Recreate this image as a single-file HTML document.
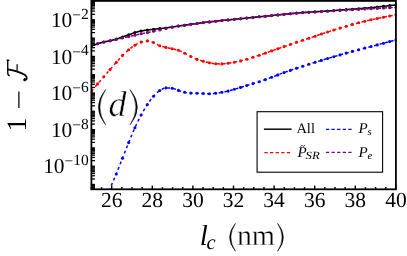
<!DOCTYPE html>
<html><head><meta charset="utf-8"><title>chart</title>
<style>
html,body{margin:0;padding:0;background:#fff;overflow:hidden}
body{width:407px;height:256px;position:relative;font-family:"Liberation Serif",serif}
#w{position:absolute;left:0;top:0;width:407px;height:256px;will-change:transform;opacity:0.999}
svg{display:block}
svg text{text-rendering:geometricPrecision}
</style>
</head><body>
<div id="w">
<svg width="407" height="256" viewBox="0 0 407 256">
<defs><clipPath id="c"><rect x="91.4" y="0.9" width="305.1" height="188.4"/></clipPath></defs>
<g clip-path="url(#c)" fill="none" stroke-linecap="butt">
<path d="M91.40,46.00 L92.01,45.77 L92.62,45.54 L93.23,45.31 L93.84,45.09 L94.45,44.87 L95.06,44.65 L95.67,44.44 L96.28,44.24 L96.89,44.03 L97.50,43.84 L98.11,43.64 L98.72,43.45 L99.33,43.26 L99.94,43.07 L100.55,42.89 L101.16,42.71 L101.77,42.54 L102.38,42.37 L102.99,42.21 L103.60,42.05 L104.21,41.91 L104.82,41.77 L105.44,41.64 L106.05,41.52 L106.66,41.40 L107.27,41.28 L107.88,41.16 L108.49,41.03 L109.10,40.91 L109.71,40.78 L110.32,40.64 L110.93,40.49 L111.54,40.35 L112.15,40.20 L112.76,40.05 L113.37,39.89 L113.98,39.73 L114.59,39.57 L115.20,39.40 L115.81,39.23 L116.42,39.05 L117.03,38.87 L117.64,38.67 L118.25,38.47 L118.86,38.27 L119.47,38.05 L120.08,37.84 L120.69,37.63 L121.30,37.41 L121.91,37.20 L122.52,36.98 L123.13,36.77 L123.74,36.56 L124.35,36.34 L124.96,36.13 L125.57,35.91 L126.18,35.69 L126.79,35.47 L127.40,35.26 L128.01,35.04 L128.62,34.82 L129.23,34.60 L129.84,34.38 L130.45,34.15 L131.06,33.93 L131.67,33.70 L132.28,33.48 L132.89,33.26 L133.51,33.05 L134.12,32.84 L134.73,32.65 L135.34,32.47 L135.95,32.29 L136.56,32.12 L137.17,31.95 L137.78,31.78 L138.39,31.62 L139.00,31.47 L139.61,31.33 L140.22,31.19 L140.83,31.06 L141.44,30.94 L142.05,30.82 L142.66,30.71 L143.27,30.61 L143.88,30.50 L144.49,30.41 L145.10,30.31 L145.71,30.22 L146.32,30.14 L146.93,30.05 L147.54,29.97 L148.15,29.90 L148.76,29.82 L149.37,29.75 L149.98,29.68 L150.59,29.62 L151.20,29.55 L151.81,29.49 L152.42,29.42 L153.03,29.36 L153.64,29.29 L154.25,29.22 L154.86,29.15 L155.47,29.08 L156.08,29.01 L156.69,28.95 L157.30,28.88 L157.91,28.81 L158.52,28.74 L159.13,28.67 L159.74,28.60 L160.35,28.53 L160.97,28.47 L161.58,28.40 L162.19,28.33 L162.80,28.27 L163.41,28.20 L164.02,28.13 L164.63,28.06 L165.24,27.99 L165.85,27.92 L166.46,27.84 L167.07,27.75 L167.68,27.67 L168.29,27.58 L168.90,27.49 L169.51,27.40 L170.12,27.31 L170.73,27.22 L171.34,27.12 L171.95,27.03 L172.56,26.95 L173.17,26.86 L173.78,26.77 L174.39,26.68 L175.00,26.59 L175.61,26.50 L176.22,26.42 L176.83,26.33 L177.44,26.24 L178.05,26.15 L178.66,26.06 L179.27,25.97 L179.88,25.89 L180.49,25.80 L181.10,25.71 L181.71,25.62 L182.32,25.53 L182.93,25.44 L183.54,25.36 L184.15,25.27 L184.76,25.18 L185.37,25.09 L185.98,25.00 L186.59,24.91 L187.20,24.82 L187.81,24.73 L188.43,24.64 L189.04,24.55 L189.65,24.46 L190.26,24.38 L190.87,24.29 L191.48,24.21 L192.09,24.13 L192.70,24.06 L193.31,23.98 L193.92,23.90 L194.53,23.83 L195.14,23.75 L195.75,23.67 L196.36,23.59 L196.97,23.51 L197.58,23.43 L198.19,23.34 L198.80,23.25 L199.41,23.15 L200.02,23.06 L200.63,22.97 L201.24,22.88 L201.85,22.79 L202.46,22.71 L203.07,22.62 L203.68,22.55 L204.29,22.47 L204.90,22.40 L205.51,22.33 L206.12,22.27 L206.73,22.20 L207.34,22.13 L207.95,22.07 L208.56,22.00 L209.17,21.93 L209.78,21.86 L210.39,21.80 L211.00,21.73 L211.61,21.66 L212.22,21.59 L212.83,21.52 L213.44,21.45 L214.05,21.38 L214.66,21.32 L215.27,21.25 L215.88,21.18 L216.50,21.11 L217.11,21.04 L217.72,20.97 L218.33,20.90 L218.94,20.83 L219.55,20.76 L220.16,20.69 L220.77,20.62 L221.38,20.56 L221.99,20.49 L222.60,20.43 L223.21,20.37 L223.82,20.31 L224.43,20.25 L225.04,20.19 L225.65,20.13 L226.26,20.08 L226.87,20.02 L227.48,19.96 L228.09,19.90 L228.70,19.84 L229.31,19.78 L229.92,19.73 L230.53,19.67 L231.14,19.61 L231.75,19.55 L232.36,19.49 L232.97,19.43 L233.58,19.37 L234.19,19.31 L234.80,19.25 L235.41,19.20 L236.02,19.14 L236.63,19.08 L237.24,19.02 L237.85,18.96 L238.46,18.90 L239.07,18.84 L239.68,18.78 L240.29,18.72 L240.90,18.67 L241.51,18.61 L242.12,18.55 L242.73,18.49 L243.34,18.43 L243.96,18.38 L244.57,18.32 L245.18,18.26 L245.79,18.20 L246.40,18.14 L247.01,18.07 L247.62,18.01 L248.23,17.94 L248.84,17.87 L249.45,17.80 L250.06,17.73 L250.67,17.66 L251.28,17.59 L251.89,17.52 L252.50,17.45 L253.11,17.39 L253.72,17.32 L254.33,17.26 L254.94,17.20 L255.55,17.14 L256.16,17.09 L256.77,17.03 L257.38,16.97 L257.99,16.91 L258.60,16.86 L259.21,16.80 L259.82,16.74 L260.43,16.68 L261.04,16.62 L261.65,16.56 L262.26,16.50 L262.87,16.44 L263.48,16.39 L264.09,16.33 L264.70,16.27 L265.31,16.21 L265.92,16.15 L266.53,16.09 L267.14,16.03 L267.75,15.98 L268.36,15.92 L268.97,15.86 L269.58,15.80 L270.19,15.74 L270.80,15.68 L271.42,15.62 L272.03,15.56 L272.64,15.49 L273.25,15.42 L273.86,15.35 L274.47,15.28 L275.08,15.21 L275.69,15.14 L276.30,15.07 L276.91,15.00 L277.52,14.93 L278.13,14.87 L278.74,14.81 L279.35,14.75 L279.96,14.69 L280.57,14.63 L281.18,14.57 L281.79,14.51 L282.40,14.46 L283.01,14.40 L283.62,14.34 L284.23,14.28 L284.84,14.22 L285.45,14.16 L286.06,14.11 L286.67,14.05 L287.28,13.99 L287.89,13.93 L288.50,13.87 L289.11,13.81 L289.72,13.75 L290.33,13.69 L290.94,13.63 L291.55,13.57 L292.16,13.51 L292.77,13.45 L293.38,13.39 L293.99,13.33 L294.60,13.27 L295.21,13.21 L295.82,13.16 L296.43,13.10 L297.04,13.05 L297.65,13.00 L298.26,12.95 L298.87,12.89 L299.49,12.84 L300.10,12.80 L300.71,12.75 L301.32,12.70 L301.93,12.66 L302.54,12.61 L303.15,12.57 L303.76,12.53 L304.37,12.49 L304.98,12.45 L305.59,12.41 L306.20,12.37 L306.81,12.33 L307.42,12.29 L308.03,12.26 L308.64,12.22 L309.25,12.18 L309.86,12.14 L310.47,12.10 L311.08,12.06 L311.69,12.02 L312.30,11.98 L312.91,11.94 L313.52,11.90 L314.13,11.86 L314.74,11.82 L315.35,11.78 L315.96,11.75 L316.57,11.71 L317.18,11.67 L317.79,11.63 L318.40,11.59 L319.01,11.55 L319.62,11.51 L320.23,11.47 L320.84,11.43 L321.45,11.39 L322.06,11.35 L322.67,11.31 L323.28,11.27 L323.89,11.23 L324.50,11.20 L325.11,11.16 L325.72,11.12 L326.33,11.08 L326.95,11.04 L327.56,11.00 L328.17,10.96 L328.78,10.92 L329.39,10.88 L330.00,10.85 L330.61,10.81 L331.22,10.77 L331.83,10.73 L332.44,10.69 L333.05,10.65 L333.66,10.61 L334.27,10.56 L334.88,10.52 L335.49,10.47 L336.10,10.42 L336.71,10.37 L337.32,10.32 L337.93,10.27 L338.54,10.22 L339.15,10.17 L339.76,10.12 L340.37,10.07 L340.98,10.02 L341.59,9.97 L342.20,9.92 L342.81,9.87 L343.42,9.81 L344.03,9.77 L344.64,9.72 L345.25,9.67 L345.86,9.62 L346.47,9.58 L347.08,9.54 L347.69,9.50 L348.30,9.46 L348.91,9.42 L349.52,9.39 L350.13,9.35 L350.74,9.31 L351.35,9.27 L351.96,9.23 L352.57,9.19 L353.18,9.14 L353.79,9.10 L354.41,9.05 L355.02,9.00 L355.63,8.95 L356.24,8.90 L356.85,8.85 L357.46,8.79 L358.07,8.74 L358.68,8.69 L359.29,8.65 L359.90,8.60 L360.51,8.55 L361.12,8.50 L361.73,8.45 L362.34,8.40 L362.95,8.35 L363.56,8.30 L364.17,8.25 L364.78,8.20 L365.39,8.16 L366.00,8.11 L366.61,8.06 L367.22,8.02 L367.83,7.97 L368.44,7.92 L369.05,7.87 L369.66,7.82 L370.27,7.77 L370.88,7.72 L371.49,7.66 L372.10,7.59 L372.71,7.53 L373.32,7.46 L373.93,7.39 L374.54,7.32 L375.15,7.25 L375.76,7.17 L376.37,7.10 L376.98,7.03 L377.59,6.96 L378.20,6.89 L378.81,6.82 L379.42,6.76 L380.03,6.69 L380.64,6.62 L381.25,6.55 L381.86,6.48 L382.48,6.41 L383.09,6.34 L383.70,6.27 L384.31,6.21 L384.92,6.14 L385.53,6.07 L386.14,6.00 L386.75,5.93 L387.36,5.86 L387.97,5.79 L388.58,5.72 L389.19,5.66 L389.80,5.59 L390.41,5.52 L391.02,5.45 L391.63,5.38 L392.24,5.31 L392.85,5.24 L393.46,5.17 L394.07,5.11 L394.68,5.04 L395.29,4.97 L395.90,4.90" stroke="#000" stroke-width="1.6"/>
<circle cx="91.40" cy="46.00" r="1.5" fill="#000"/>
<circle cx="97.61" cy="43.80" r="1.5" fill="#000"/>
<circle cx="103.83" cy="42.00" r="1.5" fill="#000"/>
<circle cx="110.04" cy="40.70" r="1.5" fill="#000"/>
<circle cx="116.26" cy="39.10" r="1.5" fill="#000"/>
<circle cx="122.47" cy="37.00" r="1.5" fill="#000"/>
<circle cx="128.69" cy="34.80" r="1.5" fill="#000"/>
<circle cx="134.90" cy="32.60" r="1.5" fill="#000"/>
<circle cx="141.11" cy="31.00" r="1.5" fill="#000"/>
<circle cx="147.33" cy="30.00" r="1.5" fill="#000"/>
<circle cx="153.54" cy="29.30" r="1.5" fill="#000"/>
<circle cx="159.76" cy="28.60" r="1.5" fill="#000"/>
<circle cx="165.97" cy="27.90" r="1.5" fill="#000"/>
<circle cx="172.19" cy="27.00" r="1.5" fill="#000"/>
<circle cx="178.40" cy="26.10" r="1.5" fill="#000"/>
<circle cx="184.61" cy="25.20" r="1.5" fill="#000"/>
<circle cx="190.83" cy="24.30" r="1.5" fill="#000"/>
<circle cx="197.04" cy="23.50" r="1.5" fill="#000"/>
<circle cx="203.26" cy="22.60" r="1.5" fill="#000"/>
<circle cx="209.47" cy="21.90" r="1.5" fill="#000"/>
<circle cx="215.69" cy="21.20" r="1.5" fill="#000"/>
<circle cx="221.90" cy="20.50" r="1.5" fill="#000"/>
<circle cx="228.11" cy="19.90" r="1.5" fill="#000"/>
<circle cx="234.33" cy="19.30" r="1.5" fill="#000"/>
<circle cx="240.54" cy="18.70" r="1.5" fill="#000"/>
<circle cx="246.76" cy="18.10" r="1.5" fill="#000"/>
<circle cx="252.97" cy="17.40" r="1.5" fill="#000"/>
<circle cx="259.19" cy="16.80" r="1.5" fill="#000"/>
<circle cx="265.40" cy="16.20" r="1.5" fill="#000"/>
<circle cx="271.61" cy="15.60" r="1.5" fill="#000"/>
<circle cx="277.83" cy="14.90" r="1.5" fill="#000"/>
<circle cx="284.04" cy="14.30" r="1.5" fill="#000"/>
<circle cx="290.26" cy="13.70" r="1.5" fill="#000"/>
<circle cx="296.47" cy="13.10" r="1.5" fill="#000"/>
<circle cx="302.69" cy="12.60" r="1.5" fill="#000"/>
<circle cx="308.90" cy="12.20" r="1.5" fill="#000"/>
<circle cx="315.11" cy="11.80" r="1.5" fill="#000"/>
<circle cx="321.33" cy="11.40" r="1.5" fill="#000"/>
<circle cx="327.54" cy="11.00" r="1.5" fill="#000"/>
<circle cx="333.76" cy="10.60" r="1.5" fill="#000"/>
<circle cx="339.97" cy="10.10" r="1.5" fill="#000"/>
<circle cx="346.19" cy="9.60" r="1.5" fill="#000"/>
<circle cx="352.40" cy="9.20" r="1.5" fill="#000"/>
<circle cx="358.61" cy="8.70" r="1.5" fill="#000"/>
<circle cx="364.83" cy="8.20" r="1.5" fill="#000"/>
<circle cx="371.04" cy="7.70" r="1.5" fill="#000"/>
<circle cx="377.26" cy="7.00" r="1.5" fill="#000"/>
<circle cx="383.47" cy="6.30" r="1.5" fill="#000"/>
<circle cx="389.69" cy="5.60" r="1.5" fill="#000"/>
<circle cx="395.90" cy="4.90" r="1.5" fill="#000"/>
<path d="M91.40,91.20 L92.01,90.48 L92.62,89.76 L93.23,89.04 L93.84,88.32 L94.45,87.60 L95.06,86.89 L95.67,86.17 L96.28,85.46 L96.89,84.74 L97.50,84.03 L98.11,83.32 L98.72,82.61 L99.33,81.90 L99.94,81.19 L100.55,80.48 L101.16,79.78 L101.77,79.07 L102.38,78.36 L102.99,77.66 L103.60,76.96 L104.21,76.26 L104.82,75.56 L105.44,74.86 L106.05,74.16 L106.66,73.47 L107.27,72.77 L107.88,72.08 L108.49,71.38 L109.10,70.69 L109.71,69.99 L110.32,69.28 L110.93,68.58 L111.54,67.87 L112.15,67.15 L112.76,66.44 L113.37,65.73 L113.98,65.01 L114.59,64.31 L115.20,63.60 L115.81,62.91 L116.42,62.22 L117.03,61.53 L117.64,60.84 L118.25,60.15 L118.86,59.47 L119.47,58.79 L120.08,58.12 L120.69,57.46 L121.30,56.81 L121.91,56.17 L122.52,55.55 L123.13,54.94 L123.74,54.33 L124.35,53.73 L124.96,53.14 L125.57,52.56 L126.18,52.00 L126.79,51.44 L127.40,50.89 L128.01,50.37 L128.62,49.85 L129.23,49.35 L129.84,48.85 L130.45,48.36 L131.06,47.88 L131.67,47.41 L132.28,46.95 L132.89,46.51 L133.51,46.09 L134.12,45.69 L134.73,45.30 L135.34,44.94 L135.95,44.58 L136.56,44.22 L137.17,43.86 L137.78,43.53 L138.39,43.21 L139.00,42.91 L139.61,42.63 L140.22,42.39 L140.83,42.18 L141.44,42.01 L142.05,41.84 L142.66,41.67 L143.27,41.51 L143.88,41.36 L144.49,41.23 L145.10,41.11 L145.71,41.02 L146.32,40.95 L146.93,40.91 L147.54,40.90 L148.15,40.95 L148.76,41.04 L149.37,41.17 L149.98,41.34 L150.59,41.53 L151.20,41.74 L151.81,41.96 L152.42,42.19 L153.03,42.42 L153.64,42.64 L154.25,42.88 L154.86,43.17 L155.47,43.49 L156.08,43.83 L156.69,44.17 L157.30,44.52 L157.91,44.86 L158.52,45.17 L159.13,45.45 L159.74,45.70 L160.35,45.90 L160.97,46.10 L161.58,46.28 L162.19,46.45 L162.80,46.61 L163.41,46.77 L164.02,46.92 L164.63,47.07 L165.24,47.22 L165.85,47.37 L166.46,47.52 L167.07,47.66 L167.68,47.80 L168.29,47.94 L168.90,48.07 L169.51,48.20 L170.12,48.34 L170.73,48.47 L171.34,48.61 L171.95,48.75 L172.56,48.89 L173.17,49.02 L173.78,49.15 L174.39,49.29 L175.00,49.42 L175.61,49.56 L176.22,49.70 L176.83,49.85 L177.44,50.01 L178.05,50.19 L178.66,50.39 L179.27,50.61 L179.88,50.86 L180.49,51.13 L181.10,51.41 L181.71,51.71 L182.32,52.02 L182.93,52.34 L183.54,52.66 L184.15,52.97 L184.76,53.27 L185.37,53.59 L185.98,53.91 L186.59,54.23 L187.20,54.57 L187.81,54.90 L188.43,55.24 L189.04,55.57 L189.65,55.89 L190.26,56.21 L190.87,56.52 L191.48,56.82 L192.09,57.13 L192.70,57.44 L193.31,57.74 L193.92,58.04 L194.53,58.33 L195.14,58.61 L195.75,58.88 L196.36,59.14 L196.97,59.37 L197.58,59.59 L198.19,59.81 L198.80,60.01 L199.41,60.20 L200.02,60.39 L200.63,60.57 L201.24,60.74 L201.85,60.92 L202.46,61.08 L203.07,61.25 L203.68,61.41 L204.29,61.58 L204.90,61.74 L205.51,61.90 L206.12,62.05 L206.73,62.20 L207.34,62.34 L207.95,62.48 L208.56,62.62 L209.17,62.74 L209.78,62.86 L210.39,62.99 L211.00,63.11 L211.61,63.24 L212.22,63.36 L212.83,63.47 L213.44,63.58 L214.05,63.66 L214.66,63.73 L215.27,63.78 L215.88,63.81 L216.50,63.82 L217.11,63.84 L217.72,63.85 L218.33,63.86 L218.94,63.88 L219.55,63.88 L220.16,63.89 L220.77,63.90 L221.38,63.90 L221.99,63.90 L222.60,63.88 L223.21,63.85 L223.82,63.80 L224.43,63.73 L225.04,63.65 L225.65,63.56 L226.26,63.47 L226.87,63.38 L227.48,63.29 L228.09,63.20 L228.70,63.12 L229.31,63.03 L229.92,62.94 L230.53,62.85 L231.14,62.75 L231.75,62.65 L232.36,62.55 L232.97,62.44 L233.58,62.33 L234.19,62.22 L234.80,62.11 L235.41,62.00 L236.02,61.88 L236.63,61.76 L237.24,61.63 L237.85,61.50 L238.46,61.37 L239.07,61.24 L239.68,61.10 L240.29,60.96 L240.90,60.81 L241.51,60.66 L242.12,60.50 L242.73,60.34 L243.34,60.17 L243.96,60.00 L244.57,59.83 L245.18,59.66 L245.79,59.48 L246.40,59.30 L247.01,59.13 L247.62,58.95 L248.23,58.77 L248.84,58.59 L249.45,58.40 L250.06,58.22 L250.67,58.03 L251.28,57.84 L251.89,57.65 L252.50,57.45 L253.11,57.26 L253.72,57.06 L254.33,56.86 L254.94,56.65 L255.55,56.44 L256.16,56.24 L256.77,56.03 L257.38,55.82 L257.99,55.61 L258.60,55.40 L259.21,55.19 L259.82,54.99 L260.43,54.78 L261.04,54.58 L261.65,54.37 L262.26,54.17 L262.87,53.96 L263.48,53.76 L264.09,53.55 L264.70,53.34 L265.31,53.13 L265.92,52.92 L266.53,52.71 L267.14,52.49 L267.75,52.27 L268.36,52.06 L268.97,51.84 L269.58,51.62 L270.19,51.40 L270.80,51.19 L271.42,50.97 L272.03,50.75 L272.64,50.54 L273.25,50.32 L273.86,50.10 L274.47,49.88 L275.08,49.67 L275.69,49.45 L276.30,49.24 L276.91,49.02 L277.52,48.81 L278.13,48.60 L278.74,48.39 L279.35,48.18 L279.96,47.97 L280.57,47.77 L281.18,47.56 L281.79,47.36 L282.40,47.15 L283.01,46.95 L283.62,46.74 L284.23,46.54 L284.84,46.33 L285.45,46.13 L286.06,45.92 L286.67,45.72 L287.28,45.51 L287.89,45.31 L288.50,45.10 L289.11,44.89 L289.72,44.68 L290.33,44.47 L290.94,44.26 L291.55,44.04 L292.16,43.83 L292.77,43.61 L293.38,43.39 L293.99,43.17 L294.60,42.95 L295.21,42.73 L295.82,42.52 L296.43,42.31 L297.04,42.11 L297.65,41.91 L298.26,41.71 L298.87,41.51 L299.49,41.32 L300.10,41.12 L300.71,40.93 L301.32,40.74 L301.93,40.54 L302.54,40.35 L303.15,40.15 L303.76,39.96 L304.37,39.76 L304.98,39.57 L305.59,39.37 L306.20,39.18 L306.81,38.98 L307.42,38.78 L308.03,38.59 L308.64,38.39 L309.25,38.18 L309.86,37.98 L310.47,37.78 L311.08,37.57 L311.69,37.37 L312.30,37.16 L312.91,36.96 L313.52,36.75 L314.13,36.54 L314.74,36.33 L315.35,36.12 L315.96,35.90 L316.57,35.69 L317.18,35.47 L317.79,35.25 L318.40,35.03 L319.01,34.81 L319.62,34.59 L320.23,34.38 L320.84,34.17 L321.45,33.96 L322.06,33.75 L322.67,33.55 L323.28,33.36 L323.89,33.16 L324.50,32.97 L325.11,32.77 L325.72,32.58 L326.33,32.39 L326.95,32.19 L327.56,32.00 L328.17,31.80 L328.78,31.60 L329.39,31.40 L330.00,31.21 L330.61,31.01 L331.22,30.81 L331.83,30.61 L332.44,30.42 L333.05,30.22 L333.66,30.03 L334.27,29.84 L334.88,29.65 L335.49,29.46 L336.10,29.27 L336.71,29.09 L337.32,28.90 L337.93,28.71 L338.54,28.53 L339.15,28.35 L339.76,28.16 L340.37,27.98 L340.98,27.80 L341.59,27.63 L342.20,27.45 L342.81,27.28 L343.42,27.10 L344.03,26.93 L344.64,26.75 L345.25,26.57 L345.86,26.40 L346.47,26.21 L347.08,26.03 L347.69,25.84 L348.30,25.65 L348.91,25.46 L349.52,25.26 L350.13,25.07 L350.74,24.89 L351.35,24.70 L351.96,24.52 L352.57,24.35 L353.18,24.18 L353.79,24.02 L354.41,23.86 L355.02,23.71 L355.63,23.55 L356.24,23.40 L356.85,23.25 L357.46,23.09 L358.07,22.94 L358.68,22.78 L359.29,22.63 L359.90,22.47 L360.51,22.31 L361.12,22.15 L361.73,21.99 L362.34,21.83 L362.95,21.67 L363.56,21.51 L364.17,21.36 L364.78,21.21 L365.39,21.07 L366.00,20.92 L366.61,20.78 L367.22,20.64 L367.83,20.51 L368.44,20.37 L369.05,20.23 L369.66,20.10 L370.27,19.97 L370.88,19.84 L371.49,19.70 L372.10,19.57 L372.71,19.44 L373.32,19.32 L373.93,19.19 L374.54,19.06 L375.15,18.94 L375.76,18.81 L376.37,18.68 L376.98,18.56 L377.59,18.43 L378.20,18.30 L378.81,18.17 L379.42,18.04 L380.03,17.91 L380.64,17.78 L381.25,17.66 L381.86,17.53 L382.48,17.40 L383.09,17.28 L383.70,17.16 L384.31,17.03 L384.92,16.91 L385.53,16.80 L386.14,16.68 L386.75,16.56 L387.36,16.45 L387.97,16.33 L388.58,16.21 L389.19,16.10 L389.80,15.98 L390.41,15.86 L391.02,15.74 L391.63,15.62 L392.24,15.51 L392.85,15.39 L393.46,15.27 L394.07,15.15 L394.68,15.04 L395.29,14.92 L395.90,14.80" stroke="#f00" stroke-width="1.5" stroke-dasharray="2.9 2.9"/>
<circle cx="91.40" cy="91.20" r="1.55" fill="#f00"/>
<circle cx="97.61" cy="83.90" r="1.55" fill="#f00"/>
<circle cx="103.83" cy="76.70" r="1.55" fill="#f00"/>
<circle cx="110.04" cy="69.60" r="1.55" fill="#f00"/>
<circle cx="116.26" cy="62.40" r="1.55" fill="#f00"/>
<circle cx="122.47" cy="55.60" r="1.55" fill="#f00"/>
<circle cx="128.69" cy="49.80" r="1.55" fill="#f00"/>
<circle cx="134.90" cy="45.20" r="1.55" fill="#f00"/>
<circle cx="141.11" cy="42.10" r="1.55" fill="#f00"/>
<circle cx="147.33" cy="40.90" r="1.55" fill="#f00"/>
<circle cx="153.54" cy="42.60" r="1.55" fill="#f00"/>
<circle cx="159.76" cy="45.70" r="1.55" fill="#f00"/>
<circle cx="165.97" cy="47.40" r="1.55" fill="#f00"/>
<circle cx="172.19" cy="48.80" r="1.55" fill="#f00"/>
<circle cx="178.40" cy="50.30" r="1.55" fill="#f00"/>
<circle cx="184.61" cy="53.20" r="1.55" fill="#f00"/>
<circle cx="190.83" cy="56.50" r="1.55" fill="#f00"/>
<circle cx="197.04" cy="59.40" r="1.55" fill="#f00"/>
<circle cx="203.26" cy="61.30" r="1.55" fill="#f00"/>
<circle cx="209.47" cy="62.80" r="1.55" fill="#f00"/>
<circle cx="215.69" cy="63.80" r="1.55" fill="#f00"/>
<circle cx="221.90" cy="63.90" r="1.55" fill="#f00"/>
<circle cx="228.11" cy="63.20" r="1.55" fill="#f00"/>
<circle cx="234.33" cy="62.20" r="1.55" fill="#f00"/>
<circle cx="240.54" cy="60.90" r="1.55" fill="#f00"/>
<circle cx="246.76" cy="59.20" r="1.55" fill="#f00"/>
<circle cx="252.97" cy="57.30" r="1.55" fill="#f00"/>
<circle cx="259.19" cy="55.20" r="1.55" fill="#f00"/>
<circle cx="265.40" cy="53.10" r="1.55" fill="#f00"/>
<circle cx="271.61" cy="50.90" r="1.55" fill="#f00"/>
<circle cx="277.83" cy="48.70" r="1.55" fill="#f00"/>
<circle cx="284.04" cy="46.60" r="1.55" fill="#f00"/>
<circle cx="290.26" cy="44.50" r="1.55" fill="#f00"/>
<circle cx="296.47" cy="42.30" r="1.55" fill="#f00"/>
<circle cx="302.69" cy="40.30" r="1.55" fill="#f00"/>
<circle cx="308.90" cy="38.30" r="1.55" fill="#f00"/>
<circle cx="315.11" cy="36.20" r="1.55" fill="#f00"/>
<circle cx="321.33" cy="34.00" r="1.55" fill="#f00"/>
<circle cx="327.54" cy="32.00" r="1.55" fill="#f00"/>
<circle cx="333.76" cy="30.00" r="1.55" fill="#f00"/>
<circle cx="339.97" cy="28.10" r="1.55" fill="#f00"/>
<circle cx="346.19" cy="26.30" r="1.55" fill="#f00"/>
<circle cx="352.40" cy="24.40" r="1.55" fill="#f00"/>
<circle cx="358.61" cy="22.80" r="1.55" fill="#f00"/>
<circle cx="364.83" cy="21.20" r="1.55" fill="#f00"/>
<circle cx="371.04" cy="19.80" r="1.55" fill="#f00"/>
<circle cx="377.26" cy="18.50" r="1.55" fill="#f00"/>
<circle cx="383.47" cy="17.20" r="1.55" fill="#f00"/>
<circle cx="389.69" cy="16.00" r="1.55" fill="#f00"/>
<circle cx="395.90" cy="14.80" r="1.55" fill="#f00"/>
<path d="M91.40,300.00 L92.01,295.62 L92.62,291.33 L93.23,287.13 L93.84,283.03 L94.45,279.02 L95.06,275.12 L95.67,271.33 L96.28,267.64 L96.89,264.07 L97.50,260.62 L98.11,257.33 L98.72,254.25 L99.33,251.32 L99.94,248.51 L100.55,245.76 L101.16,243.03 L101.77,240.25 L102.38,237.39 L102.99,234.40 L103.60,231.22 L104.21,227.76 L104.82,223.84 L105.44,219.57 L106.05,215.09 L106.66,210.53 L107.27,206.02 L107.88,201.69 L108.49,197.68 L109.10,194.12 L109.71,191.14 L110.32,188.83 L110.93,186.83 L111.54,185.05 L112.15,183.43 L112.76,181.94 L113.37,180.55 L113.98,179.21 L114.59,177.88 L115.20,176.53 L115.81,175.11 L116.42,173.59 L117.03,172.04 L117.64,170.48 L118.25,168.93 L118.86,167.37 L119.47,165.82 L120.08,164.26 L120.69,162.71 L121.30,161.16 L121.91,159.62 L122.52,158.07 L123.13,156.53 L123.74,154.98 L124.35,153.44 L124.96,151.89 L125.57,150.35 L126.18,148.82 L126.79,147.29 L127.40,145.76 L128.01,144.25 L128.62,142.75 L129.23,141.26 L129.84,139.76 L130.45,138.27 L131.06,136.78 L131.67,135.30 L132.28,133.84 L132.89,132.39 L133.51,130.96 L134.12,129.56 L134.73,128.19 L135.34,126.84 L135.95,125.51 L136.56,124.19 L137.17,122.88 L137.78,121.60 L138.39,120.33 L139.00,119.09 L139.61,117.88 L140.22,116.69 L140.83,115.53 L141.44,114.40 L142.05,113.30 L142.66,112.21 L143.27,111.15 L143.88,110.10 L144.49,109.08 L145.10,108.08 L145.71,107.10 L146.32,106.14 L146.93,105.20 L147.54,104.28 L148.15,103.38 L148.76,102.48 L149.37,101.59 L149.98,100.72 L150.59,99.87 L151.20,99.05 L151.81,98.26 L152.42,97.50 L153.03,96.77 L153.64,96.09 L154.25,95.43 L154.86,94.77 L155.47,94.13 L156.08,93.50 L156.69,92.91 L157.30,92.34 L157.91,91.81 L158.52,91.33 L159.13,90.89 L159.74,90.51 L160.35,90.15 L160.97,89.79 L161.58,89.44 L162.19,89.10 L162.80,88.79 L163.41,88.51 L164.02,88.27 L164.63,88.08 L165.24,87.96 L165.85,87.90 L166.46,87.90 L167.07,87.92 L167.68,87.94 L168.29,87.97 L168.90,88.00 L169.51,88.05 L170.12,88.10 L170.73,88.15 L171.34,88.21 L171.95,88.27 L172.56,88.35 L173.17,88.47 L173.78,88.64 L174.39,88.84 L175.00,89.07 L175.61,89.31 L176.22,89.57 L176.83,89.82 L177.44,90.06 L178.05,90.28 L178.66,90.48 L179.27,90.69 L179.88,90.90 L180.49,91.11 L181.10,91.32 L181.71,91.53 L182.32,91.72 L182.93,91.90 L183.54,92.07 L184.15,92.21 L184.76,92.33 L185.37,92.43 L185.98,92.54 L186.59,92.64 L187.20,92.73 L187.81,92.81 L188.43,92.89 L189.04,92.96 L189.65,93.02 L190.26,93.07 L190.87,93.10 L191.48,93.13 L192.09,93.16 L192.70,93.18 L193.31,93.20 L193.92,93.21 L194.53,93.23 L195.14,93.25 L195.75,93.26 L196.36,93.28 L196.97,93.30 L197.58,93.32 L198.19,93.34 L198.80,93.36 L199.41,93.38 L200.02,93.40 L200.63,93.42 L201.24,93.44 L201.85,93.45 L202.46,93.47 L203.07,93.49 L203.68,93.51 L204.29,93.54 L204.90,93.56 L205.51,93.59 L206.12,93.62 L206.73,93.64 L207.34,93.66 L207.95,93.68 L208.56,93.69 L209.17,93.70 L209.78,93.70 L210.39,93.68 L211.00,93.65 L211.61,93.61 L212.22,93.56 L212.83,93.51 L213.44,93.44 L214.05,93.38 L214.66,93.31 L215.27,93.24 L215.88,93.18 L216.50,93.11 L217.11,93.03 L217.72,92.95 L218.33,92.87 L218.94,92.78 L219.55,92.68 L220.16,92.59 L220.77,92.49 L221.38,92.39 L221.99,92.29 L222.60,92.18 L223.21,92.08 L223.82,91.97 L224.43,91.86 L225.04,91.75 L225.65,91.63 L226.26,91.50 L226.87,91.38 L227.48,91.24 L228.09,91.11 L228.70,90.96 L229.31,90.80 L229.92,90.63 L230.53,90.46 L231.14,90.28 L231.75,90.09 L232.36,89.90 L232.97,89.71 L233.58,89.53 L234.19,89.34 L234.80,89.16 L235.41,88.97 L236.02,88.79 L236.63,88.60 L237.24,88.42 L237.85,88.23 L238.46,88.04 L239.07,87.85 L239.68,87.66 L240.29,87.48 L240.90,87.29 L241.51,87.10 L242.12,86.92 L242.73,86.73 L243.34,86.54 L243.96,86.36 L244.57,86.17 L245.18,85.98 L245.79,85.80 L246.40,85.61 L247.01,85.42 L247.62,85.24 L248.23,85.05 L248.84,84.86 L249.45,84.68 L250.06,84.49 L250.67,84.30 L251.28,84.12 L251.89,83.93 L252.50,83.74 L253.11,83.56 L253.72,83.37 L254.33,83.19 L254.94,83.00 L255.55,82.82 L256.16,82.64 L256.77,82.45 L257.38,82.27 L257.99,82.08 L258.60,81.89 L259.21,81.69 L259.82,81.49 L260.43,81.30 L261.04,81.09 L261.65,80.89 L262.26,80.69 L262.87,80.48 L263.48,80.27 L264.09,80.06 L264.70,79.85 L265.31,79.63 L265.92,79.41 L266.53,79.19 L267.14,78.97 L267.75,78.75 L268.36,78.52 L268.97,78.29 L269.58,78.07 L270.19,77.84 L270.80,77.61 L271.42,77.38 L272.03,77.14 L272.64,76.91 L273.25,76.67 L273.86,76.44 L274.47,76.20 L275.08,75.96 L275.69,75.72 L276.30,75.49 L276.91,75.25 L277.52,75.02 L278.13,74.79 L278.74,74.56 L279.35,74.33 L279.96,74.10 L280.57,73.87 L281.18,73.65 L281.79,73.42 L282.40,73.20 L283.01,72.98 L283.62,72.75 L284.23,72.53 L284.84,72.31 L285.45,72.09 L286.06,71.87 L286.67,71.66 L287.28,71.44 L287.89,71.23 L288.50,71.01 L289.11,70.80 L289.72,70.59 L290.33,70.37 L290.94,70.16 L291.55,69.95 L292.16,69.75 L292.77,69.54 L293.38,69.33 L293.99,69.13 L294.60,68.92 L295.21,68.72 L295.82,68.51 L296.43,68.31 L297.04,68.11 L297.65,67.91 L298.26,67.72 L298.87,67.52 L299.49,67.32 L300.10,67.13 L300.71,66.93 L301.32,66.74 L301.93,66.54 L302.54,66.35 L303.15,66.15 L303.76,65.96 L304.37,65.76 L304.98,65.56 L305.59,65.37 L306.20,65.17 L306.81,64.97 L307.42,64.78 L308.03,64.58 L308.64,64.38 L309.25,64.19 L309.86,63.99 L310.47,63.79 L311.08,63.59 L311.69,63.40 L312.30,63.20 L312.91,63.00 L313.52,62.81 L314.13,62.61 L314.74,62.42 L315.35,62.23 L315.96,62.04 L316.57,61.85 L317.18,61.66 L317.79,61.47 L318.40,61.29 L319.01,61.10 L319.62,60.92 L320.23,60.73 L320.84,60.55 L321.45,60.36 L322.06,60.17 L322.67,59.99 L323.28,59.80 L323.89,59.61 L324.50,59.42 L325.11,59.24 L325.72,59.05 L326.33,58.86 L326.95,58.68 L327.56,58.50 L328.17,58.32 L328.78,58.14 L329.39,57.96 L330.00,57.78 L330.61,57.61 L331.22,57.43 L331.83,57.26 L332.44,57.08 L333.05,56.91 L333.66,56.73 L334.27,56.55 L334.88,56.38 L335.49,56.20 L336.10,56.02 L336.71,55.85 L337.32,55.67 L337.93,55.49 L338.54,55.31 L339.15,55.14 L339.76,54.96 L340.37,54.78 L340.98,54.61 L341.59,54.43 L342.20,54.25 L342.81,54.07 L343.42,53.89 L344.03,53.72 L344.64,53.54 L345.25,53.36 L345.86,53.19 L346.47,53.02 L347.08,52.85 L347.69,52.68 L348.30,52.51 L348.91,52.35 L349.52,52.18 L350.13,52.02 L350.74,51.85 L351.35,51.69 L351.96,51.52 L352.57,51.35 L353.18,51.18 L353.79,51.02 L354.41,50.85 L355.02,50.68 L355.63,50.51 L356.24,50.34 L356.85,50.18 L357.46,50.01 L358.07,49.85 L358.68,49.68 L359.29,49.52 L359.90,49.36 L360.51,49.21 L361.12,49.05 L361.73,48.89 L362.34,48.74 L362.95,48.58 L363.56,48.43 L364.17,48.27 L364.78,48.11 L365.39,47.96 L366.00,47.80 L366.61,47.64 L367.22,47.48 L367.83,47.33 L368.44,47.17 L369.05,47.01 L369.66,46.86 L370.27,46.70 L370.88,46.54 L371.49,46.38 L372.10,46.23 L372.71,46.07 L373.32,45.92 L373.93,45.76 L374.54,45.61 L375.15,45.45 L375.76,45.29 L376.37,45.13 L376.98,44.97 L377.59,44.81 L378.20,44.65 L378.81,44.48 L379.42,44.31 L380.03,44.14 L380.64,43.97 L381.25,43.80 L381.86,43.63 L382.48,43.47 L383.09,43.30 L383.70,43.14 L384.31,42.98 L384.92,42.82 L385.53,42.66 L386.14,42.51 L386.75,42.35 L387.36,42.20 L387.97,42.04 L388.58,41.88 L389.19,41.73 L389.80,41.57 L390.41,41.41 L391.02,41.26 L391.63,41.10 L392.24,40.94 L392.85,40.79 L393.46,40.63 L394.07,40.47 L394.68,40.31 L395.29,40.16 L395.90,40.00" stroke="#00f" stroke-width="1.5" stroke-dasharray="2.9 2.9"/>
<circle cx="116.26" cy="174.00" r="1.55" fill="#00f"/>
<circle cx="122.47" cy="158.20" r="1.55" fill="#00f"/>
<circle cx="128.69" cy="142.60" r="1.55" fill="#00f"/>
<circle cx="134.90" cy="127.80" r="1.55" fill="#00f"/>
<circle cx="141.11" cy="115.00" r="1.55" fill="#00f"/>
<circle cx="147.33" cy="104.60" r="1.55" fill="#00f"/>
<circle cx="153.54" cy="96.20" r="1.55" fill="#00f"/>
<circle cx="159.76" cy="90.50" r="1.55" fill="#00f"/>
<circle cx="165.97" cy="87.90" r="1.55" fill="#00f"/>
<circle cx="172.19" cy="88.30" r="1.55" fill="#00f"/>
<circle cx="178.40" cy="90.40" r="1.55" fill="#00f"/>
<circle cx="184.61" cy="92.30" r="1.55" fill="#00f"/>
<circle cx="190.83" cy="93.10" r="1.55" fill="#00f"/>
<circle cx="197.04" cy="93.30" r="1.55" fill="#00f"/>
<circle cx="203.26" cy="93.50" r="1.55" fill="#00f"/>
<circle cx="209.47" cy="93.70" r="1.55" fill="#00f"/>
<circle cx="215.69" cy="93.20" r="1.55" fill="#00f"/>
<circle cx="221.90" cy="92.30" r="1.55" fill="#00f"/>
<circle cx="228.11" cy="91.10" r="1.55" fill="#00f"/>
<circle cx="234.33" cy="89.30" r="1.55" fill="#00f"/>
<circle cx="240.54" cy="87.40" r="1.55" fill="#00f"/>
<circle cx="246.76" cy="85.50" r="1.55" fill="#00f"/>
<circle cx="252.97" cy="83.60" r="1.55" fill="#00f"/>
<circle cx="259.19" cy="81.70" r="1.55" fill="#00f"/>
<circle cx="265.40" cy="79.60" r="1.55" fill="#00f"/>
<circle cx="271.61" cy="77.30" r="1.55" fill="#00f"/>
<circle cx="277.83" cy="74.90" r="1.55" fill="#00f"/>
<circle cx="284.04" cy="72.60" r="1.55" fill="#00f"/>
<circle cx="290.26" cy="70.40" r="1.55" fill="#00f"/>
<circle cx="296.47" cy="68.30" r="1.55" fill="#00f"/>
<circle cx="302.69" cy="66.30" r="1.55" fill="#00f"/>
<circle cx="308.90" cy="64.30" r="1.55" fill="#00f"/>
<circle cx="315.11" cy="62.30" r="1.55" fill="#00f"/>
<circle cx="321.33" cy="60.40" r="1.55" fill="#00f"/>
<circle cx="327.54" cy="58.50" r="1.55" fill="#00f"/>
<circle cx="333.76" cy="56.70" r="1.55" fill="#00f"/>
<circle cx="339.97" cy="54.90" r="1.55" fill="#00f"/>
<circle cx="346.19" cy="53.10" r="1.55" fill="#00f"/>
<circle cx="352.40" cy="51.40" r="1.55" fill="#00f"/>
<circle cx="358.61" cy="49.70" r="1.55" fill="#00f"/>
<circle cx="364.83" cy="48.10" r="1.55" fill="#00f"/>
<circle cx="371.04" cy="46.50" r="1.55" fill="#00f"/>
<circle cx="377.26" cy="44.90" r="1.55" fill="#00f"/>
<circle cx="383.47" cy="43.20" r="1.55" fill="#00f"/>
<circle cx="389.69" cy="41.60" r="1.55" fill="#00f"/>
<circle cx="395.90" cy="40.00" r="1.55" fill="#00f"/>
<path d="M91.40,46.00 L92.01,45.77 L92.62,45.54 L93.23,45.31 L93.84,45.09 L94.45,44.87 L95.06,44.65 L95.67,44.44 L96.28,44.24 L96.89,44.03 L97.50,43.84 L98.11,43.64 L98.72,43.45 L99.33,43.26 L99.94,43.07 L100.55,42.88 L101.16,42.70 L101.77,42.53 L102.38,42.36 L102.99,42.20 L103.60,42.05 L104.21,41.91 L104.82,41.78 L105.44,41.66 L106.05,41.54 L106.66,41.43 L107.27,41.32 L107.88,41.21 L108.49,41.10 L109.10,40.98 L109.71,40.87 L110.32,40.74 L110.93,40.62 L111.54,40.50 L112.15,40.37 L112.76,40.25 L113.37,40.12 L113.98,39.99 L114.59,39.87 L115.20,39.73 L115.81,39.60 L116.42,39.46 L117.03,39.32 L117.64,39.18 L118.25,39.03 L118.86,38.88 L119.47,38.73 L120.08,38.58 L120.69,38.43 L121.30,38.28 L121.91,38.13 L122.52,37.99 L123.13,37.85 L123.74,37.71 L124.35,37.57 L124.96,37.43 L125.57,37.30 L126.18,37.16 L126.79,37.02 L127.40,36.89 L128.01,36.75 L128.62,36.61 L129.23,36.48 L129.84,36.34 L130.45,36.20 L131.06,36.06 L131.67,35.93 L132.28,35.79 L132.89,35.65 L133.51,35.51 L134.12,35.38 L134.73,35.24 L135.34,35.10 L135.95,34.96 L136.56,34.82 L137.17,34.68 L137.78,34.54 L138.39,34.40 L139.00,34.26 L139.61,34.12 L140.22,33.99 L140.83,33.86 L141.44,33.73 L142.05,33.61 L142.66,33.49 L143.27,33.37 L143.88,33.26 L144.49,33.14 L145.10,33.03 L145.71,32.91 L146.32,32.80 L146.93,32.68 L147.54,32.56 L148.15,32.43 L148.76,32.31 L149.37,32.18 L149.98,32.06 L150.59,31.93 L151.20,31.80 L151.81,31.67 L152.42,31.54 L153.03,31.41 L153.64,31.28 L154.25,31.14 L154.86,31.01 L155.47,30.87 L156.08,30.73 L156.69,30.59 L157.30,30.45 L157.91,30.31 L158.52,30.17 L159.13,30.04 L159.74,29.90 L160.35,29.77 L160.97,29.64 L161.58,29.52 L162.19,29.39 L162.80,29.26 L163.41,29.14 L164.02,29.01 L164.63,28.89 L165.24,28.76 L165.85,28.63 L166.46,28.49 L167.07,28.36 L167.68,28.21 L168.29,28.07 L168.90,27.93 L169.51,27.79 L170.12,27.64 L170.73,27.51 L171.34,27.37 L171.95,27.25 L172.56,27.13 L173.17,27.01 L173.78,26.89 L174.39,26.78 L175.00,26.67 L175.61,26.56 L176.22,26.46 L176.83,26.36 L177.44,26.25 L178.05,26.16 L178.66,26.06 L179.27,25.96 L179.88,25.87 L180.49,25.78 L181.10,25.70 L181.71,25.61 L182.32,25.52 L182.93,25.44 L183.54,25.35 L184.15,25.27 L184.76,25.18 L185.37,25.09 L185.98,25.00 L186.59,24.91 L187.20,24.82 L187.81,24.73 L188.43,24.64 L189.04,24.55 L189.65,24.46 L190.26,24.38 L190.87,24.29 L191.48,24.21 L192.09,24.13 L192.70,24.06 L193.31,23.98 L193.92,23.90 L194.53,23.83 L195.14,23.75 L195.75,23.67 L196.36,23.59 L196.97,23.51 L197.58,23.43 L198.19,23.34 L198.80,23.25 L199.41,23.15 L200.02,23.06 L200.63,22.97 L201.24,22.88 L201.85,22.79 L202.46,22.71 L203.07,22.62 L203.68,22.55 L204.29,22.47 L204.90,22.40 L205.51,22.33 L206.12,22.27 L206.73,22.20 L207.34,22.13 L207.95,22.07 L208.56,22.00 L209.17,21.93 L209.78,21.86 L210.39,21.80 L211.00,21.73 L211.61,21.66 L212.22,21.59 L212.83,21.52 L213.44,21.45 L214.05,21.38 L214.66,21.32 L215.27,21.25 L215.88,21.18 L216.50,21.11 L217.11,21.04 L217.72,20.97 L218.33,20.90 L218.94,20.83 L219.55,20.76 L220.16,20.69 L220.77,20.62 L221.38,20.56 L221.99,20.49 L222.60,20.43 L223.21,20.37 L223.82,20.31 L224.43,20.25 L225.04,20.19 L225.65,20.13 L226.26,20.08 L226.87,20.02 L227.48,19.96 L228.09,19.90 L228.70,19.84 L229.31,19.78 L229.92,19.73 L230.53,19.67 L231.14,19.61 L231.75,19.55 L232.36,19.49 L232.97,19.43 L233.58,19.37 L234.19,19.31 L234.80,19.25 L235.41,19.20 L236.02,19.14 L236.63,19.08 L237.24,19.02 L237.85,18.96 L238.46,18.90 L239.07,18.84 L239.68,18.78 L240.29,18.72 L240.90,18.67 L241.51,18.61 L242.12,18.55 L242.73,18.49 L243.34,18.43 L243.96,18.38 L244.57,18.32 L245.18,18.26 L245.79,18.20 L246.40,18.14 L247.01,18.07 L247.62,18.01 L248.23,17.94 L248.84,17.87 L249.45,17.80 L250.06,17.73 L250.67,17.66 L251.28,17.59 L251.89,17.52 L252.50,17.45 L253.11,17.39 L253.72,17.32 L254.33,17.26 L254.94,17.20 L255.55,17.14 L256.16,17.09 L256.77,17.03 L257.38,16.97 L257.99,16.91 L258.60,16.86 L259.21,16.80 L259.82,16.74 L260.43,16.68 L261.04,16.62 L261.65,16.56 L262.26,16.50 L262.87,16.44 L263.48,16.39 L264.09,16.33 L264.70,16.27 L265.31,16.21 L265.92,16.15 L266.53,16.09 L267.14,16.03 L267.75,15.98 L268.36,15.92 L268.97,15.86 L269.58,15.80 L270.19,15.74 L270.80,15.68 L271.42,15.62 L272.03,15.56 L272.64,15.49 L273.25,15.42 L273.86,15.35 L274.47,15.28 L275.08,15.21 L275.69,15.14 L276.30,15.07 L276.91,15.00 L277.52,14.93 L278.13,14.87 L278.74,14.81 L279.35,14.75 L279.96,14.69 L280.57,14.63 L281.18,14.57 L281.79,14.51 L282.40,14.46 L283.01,14.40 L283.62,14.34 L284.23,14.28 L284.84,14.22 L285.45,14.16 L286.06,14.10 L286.67,14.04 L287.28,13.98 L287.89,13.92 L288.50,13.86 L289.11,13.80 L289.72,13.75 L290.33,13.69 L290.94,13.64 L291.55,13.59 L292.16,13.54 L292.77,13.49 L293.38,13.44 L293.99,13.40 L294.60,13.35 L295.21,13.30 L295.82,13.25 L296.43,13.20 L297.04,13.15 L297.65,13.10 L298.26,13.05 L298.87,13.00 L299.49,12.95 L300.10,12.90 L300.71,12.85 L301.32,12.80 L301.93,12.76 L302.54,12.71 L303.15,12.67 L303.76,12.63 L304.37,12.59 L304.98,12.55 L305.59,12.51 L306.20,12.47 L306.81,12.43 L307.42,12.39 L308.03,12.36 L308.64,12.32 L309.25,12.28 L309.86,12.24 L310.47,12.20 L311.08,12.16 L311.69,12.11 L312.30,12.07 L312.91,12.03 L313.52,11.99 L314.13,11.96 L314.74,11.92 L315.35,11.89 L315.96,11.86 L316.57,11.83 L317.18,11.80 L317.79,11.77 L318.40,11.74 L319.01,11.71 L319.62,11.69 L320.23,11.66 L320.84,11.63 L321.45,11.59 L322.06,11.56 L322.67,11.52 L323.28,11.48 L323.89,11.44 L324.50,11.40 L325.11,11.36 L325.72,11.32 L326.33,11.28 L326.95,11.24 L327.56,11.20 L328.17,11.16 L328.78,11.12 L329.39,11.08 L330.00,11.04 L330.61,11.00 L331.22,10.96 L331.83,10.92 L332.44,10.88 L333.05,10.85 L333.66,10.81 L334.27,10.77 L334.88,10.73 L335.49,10.69 L336.10,10.64 L336.71,10.60 L337.32,10.56 L337.93,10.52 L338.54,10.48 L339.15,10.45 L339.76,10.41 L340.37,10.38 L340.98,10.35 L341.59,10.32 L342.20,10.29 L342.81,10.26 L343.42,10.23 L344.03,10.21 L344.64,10.18 L345.25,10.15 L345.86,10.12 L346.47,10.08 L347.08,10.05 L347.69,10.01 L348.30,9.97 L348.91,9.93 L349.52,9.88 L350.13,9.84 L350.74,9.80 L351.35,9.76 L351.96,9.72 L352.57,9.69 L353.18,9.66 L353.79,9.63 L354.41,9.60 L355.02,9.57 L355.63,9.54 L356.24,9.52 L356.85,9.49 L357.46,9.46 L358.07,9.43 L358.68,9.40 L359.29,9.36 L359.90,9.32 L360.51,9.28 L361.12,9.24 L361.73,9.20 L362.34,9.16 L362.95,9.12 L363.56,9.08 L364.17,9.04 L364.78,9.00 L365.39,8.97 L366.00,8.94 L366.61,8.91 L367.22,8.88 L367.83,8.85 L368.44,8.82 L369.05,8.79 L369.66,8.77 L370.27,8.74 L370.88,8.71 L371.49,8.68 L372.10,8.65 L372.71,8.62 L373.32,8.59 L373.93,8.57 L374.54,8.54 L375.15,8.51 L375.76,8.48 L376.37,8.45 L376.98,8.41 L377.59,8.38 L378.20,8.34 L378.81,8.31 L379.42,8.26 L380.03,8.22 L380.64,8.18 L381.25,8.14 L381.86,8.10 L382.48,8.06 L383.09,8.02 L383.70,7.99 L384.31,7.96 L384.92,7.92 L385.53,7.89 L386.14,7.87 L386.75,7.84 L387.36,7.81 L387.97,7.78 L388.58,7.75 L389.19,7.72 L389.80,7.69 L390.41,7.67 L391.02,7.64 L391.63,7.61 L392.24,7.58 L392.85,7.55 L393.46,7.52 L394.07,7.49 L394.68,7.46 L395.29,7.43 L395.90,7.40" stroke="#800080" stroke-width="1.5" stroke-dasharray="2.9 2.9"/>
<circle cx="91.40" cy="46.00" r="1.55" fill="#800080"/>
<circle cx="97.61" cy="43.80" r="1.55" fill="#800080"/>
<circle cx="103.83" cy="42.00" r="1.55" fill="#800080"/>
<circle cx="110.04" cy="40.80" r="1.55" fill="#800080"/>
<circle cx="116.26" cy="39.50" r="1.55" fill="#800080"/>
<circle cx="122.47" cy="38.00" r="1.55" fill="#800080"/>
<circle cx="128.69" cy="36.60" r="1.55" fill="#800080"/>
<circle cx="134.90" cy="35.20" r="1.55" fill="#800080"/>
<circle cx="141.11" cy="33.80" r="1.55" fill="#800080"/>
<circle cx="147.33" cy="32.60" r="1.55" fill="#800080"/>
<circle cx="153.54" cy="31.30" r="1.55" fill="#800080"/>
<circle cx="159.76" cy="29.90" r="1.55" fill="#800080"/>
<circle cx="165.97" cy="28.60" r="1.55" fill="#800080"/>
<circle cx="172.19" cy="27.20" r="1.55" fill="#800080"/>
<circle cx="178.40" cy="26.10" r="1.55" fill="#800080"/>
<circle cx="184.61" cy="25.20" r="1.55" fill="#800080"/>
<circle cx="190.83" cy="24.30" r="1.55" fill="#800080"/>
<circle cx="197.04" cy="23.50" r="1.55" fill="#800080"/>
<circle cx="203.26" cy="22.60" r="1.55" fill="#800080"/>
<circle cx="209.47" cy="21.90" r="1.55" fill="#800080"/>
<circle cx="215.69" cy="21.20" r="1.55" fill="#800080"/>
<circle cx="221.90" cy="20.50" r="1.55" fill="#800080"/>
<circle cx="228.11" cy="19.90" r="1.55" fill="#800080"/>
<circle cx="234.33" cy="19.30" r="1.55" fill="#800080"/>
<circle cx="240.54" cy="18.70" r="1.55" fill="#800080"/>
<circle cx="246.76" cy="18.10" r="1.55" fill="#800080"/>
<circle cx="252.97" cy="17.40" r="1.55" fill="#800080"/>
<circle cx="259.19" cy="16.80" r="1.55" fill="#800080"/>
<circle cx="265.40" cy="16.20" r="1.55" fill="#800080"/>
<circle cx="271.61" cy="15.60" r="1.55" fill="#800080"/>
<circle cx="277.83" cy="14.90" r="1.55" fill="#800080"/>
<circle cx="284.04" cy="14.30" r="1.55" fill="#800080"/>
<circle cx="290.26" cy="13.70" r="1.55" fill="#800080"/>
<circle cx="296.47" cy="13.20" r="1.55" fill="#800080"/>
<circle cx="302.69" cy="12.70" r="1.55" fill="#800080"/>
<circle cx="308.90" cy="12.30" r="1.55" fill="#800080"/>
<circle cx="315.11" cy="11.90" r="1.55" fill="#800080"/>
<circle cx="321.33" cy="11.60" r="1.55" fill="#800080"/>
<circle cx="327.54" cy="11.20" r="1.55" fill="#800080"/>
<circle cx="333.76" cy="10.80" r="1.55" fill="#800080"/>
<circle cx="339.97" cy="10.40" r="1.55" fill="#800080"/>
<circle cx="346.19" cy="10.10" r="1.55" fill="#800080"/>
<circle cx="352.40" cy="9.70" r="1.55" fill="#800080"/>
<circle cx="358.61" cy="9.40" r="1.55" fill="#800080"/>
<circle cx="364.83" cy="9.00" r="1.55" fill="#800080"/>
<circle cx="371.04" cy="8.70" r="1.55" fill="#800080"/>
<circle cx="377.26" cy="8.40" r="1.55" fill="#800080"/>
<circle cx="383.47" cy="8.00" r="1.55" fill="#800080"/>
<circle cx="389.69" cy="7.70" r="1.55" fill="#800080"/>
<circle cx="395.90" cy="7.40" r="1.55" fill="#800080"/>
</g>
<g stroke="#000" stroke-width="1.25" fill="none">
<line x1="91.4" y1="188.56" x2="95.0" y2="188.56"/>
<line x1="91.4" y1="187.33" x2="95.0" y2="187.33"/>
<line x1="91.4" y1="186.27" x2="95.0" y2="186.27"/>
<line x1="91.4" y1="185.34" x2="95.0" y2="185.34"/>
<line x1="91.4" y1="184.50" x2="95.0" y2="184.50"/>
<line x1="91.4" y1="178.99" x2="95.0" y2="178.99"/>
<line x1="91.4" y1="175.77" x2="95.0" y2="175.77"/>
<line x1="91.4" y1="173.48" x2="95.0" y2="173.48"/>
<line x1="91.4" y1="171.71" x2="95.0" y2="171.71"/>
<line x1="91.4" y1="170.26" x2="95.0" y2="170.26"/>
<line x1="91.4" y1="169.03" x2="95.0" y2="169.03"/>
<line x1="91.4" y1="167.97" x2="95.0" y2="167.97"/>
<line x1="91.4" y1="167.04" x2="95.0" y2="167.04"/>
<line x1="91.4" y1="166.20" x2="95.0" y2="166.20"/>
<line x1="91.4" y1="160.69" x2="95.0" y2="160.69"/>
<line x1="91.4" y1="157.47" x2="95.0" y2="157.47"/>
<line x1="91.4" y1="155.18" x2="95.0" y2="155.18"/>
<line x1="91.4" y1="153.41" x2="95.0" y2="153.41"/>
<line x1="91.4" y1="151.96" x2="95.0" y2="151.96"/>
<line x1="91.4" y1="150.73" x2="95.0" y2="150.73"/>
<line x1="91.4" y1="149.67" x2="95.0" y2="149.67"/>
<line x1="91.4" y1="148.74" x2="95.0" y2="148.74"/>
<line x1="91.4" y1="147.90" x2="95.0" y2="147.90"/>
<line x1="91.4" y1="142.39" x2="95.0" y2="142.39"/>
<line x1="91.4" y1="139.17" x2="95.0" y2="139.17"/>
<line x1="91.4" y1="136.88" x2="95.0" y2="136.88"/>
<line x1="91.4" y1="135.11" x2="95.0" y2="135.11"/>
<line x1="91.4" y1="133.66" x2="95.0" y2="133.66"/>
<line x1="91.4" y1="132.43" x2="95.0" y2="132.43"/>
<line x1="91.4" y1="131.37" x2="95.0" y2="131.37"/>
<line x1="91.4" y1="130.44" x2="95.0" y2="130.44"/>
<line x1="91.4" y1="129.60" x2="95.0" y2="129.60"/>
<line x1="91.4" y1="124.09" x2="95.0" y2="124.09"/>
<line x1="91.4" y1="120.87" x2="95.0" y2="120.87"/>
<line x1="91.4" y1="118.58" x2="95.0" y2="118.58"/>
<line x1="91.4" y1="116.81" x2="95.0" y2="116.81"/>
<line x1="91.4" y1="115.36" x2="95.0" y2="115.36"/>
<line x1="91.4" y1="114.13" x2="95.0" y2="114.13"/>
<line x1="91.4" y1="113.07" x2="95.0" y2="113.07"/>
<line x1="91.4" y1="112.14" x2="95.0" y2="112.14"/>
<line x1="91.4" y1="111.30" x2="95.0" y2="111.30"/>
<line x1="91.4" y1="105.79" x2="95.0" y2="105.79"/>
<line x1="91.4" y1="102.57" x2="95.0" y2="102.57"/>
<line x1="91.4" y1="100.28" x2="95.0" y2="100.28"/>
<line x1="91.4" y1="98.51" x2="95.0" y2="98.51"/>
<line x1="91.4" y1="97.06" x2="95.0" y2="97.06"/>
<line x1="91.4" y1="95.83" x2="95.0" y2="95.83"/>
<line x1="91.4" y1="94.77" x2="95.0" y2="94.77"/>
<line x1="91.4" y1="93.84" x2="95.0" y2="93.84"/>
<line x1="91.4" y1="93.00" x2="95.0" y2="93.00"/>
<line x1="91.4" y1="87.49" x2="95.0" y2="87.49"/>
<line x1="91.4" y1="84.27" x2="95.0" y2="84.27"/>
<line x1="91.4" y1="81.98" x2="95.0" y2="81.98"/>
<line x1="91.4" y1="80.21" x2="95.0" y2="80.21"/>
<line x1="91.4" y1="78.76" x2="95.0" y2="78.76"/>
<line x1="91.4" y1="77.53" x2="95.0" y2="77.53"/>
<line x1="91.4" y1="76.47" x2="95.0" y2="76.47"/>
<line x1="91.4" y1="75.54" x2="95.0" y2="75.54"/>
<line x1="91.4" y1="74.70" x2="95.0" y2="74.70"/>
<line x1="91.4" y1="69.19" x2="95.0" y2="69.19"/>
<line x1="91.4" y1="65.97" x2="95.0" y2="65.97"/>
<line x1="91.4" y1="63.68" x2="95.0" y2="63.68"/>
<line x1="91.4" y1="61.91" x2="95.0" y2="61.91"/>
<line x1="91.4" y1="60.46" x2="95.0" y2="60.46"/>
<line x1="91.4" y1="59.23" x2="95.0" y2="59.23"/>
<line x1="91.4" y1="58.17" x2="95.0" y2="58.17"/>
<line x1="91.4" y1="57.24" x2="95.0" y2="57.24"/>
<line x1="91.4" y1="56.40" x2="95.0" y2="56.40"/>
<line x1="91.4" y1="50.89" x2="95.0" y2="50.89"/>
<line x1="91.4" y1="47.67" x2="95.0" y2="47.67"/>
<line x1="91.4" y1="45.38" x2="95.0" y2="45.38"/>
<line x1="91.4" y1="43.61" x2="95.0" y2="43.61"/>
<line x1="91.4" y1="42.16" x2="95.0" y2="42.16"/>
<line x1="91.4" y1="40.93" x2="95.0" y2="40.93"/>
<line x1="91.4" y1="39.87" x2="95.0" y2="39.87"/>
<line x1="91.4" y1="38.94" x2="95.0" y2="38.94"/>
<line x1="91.4" y1="38.10" x2="95.0" y2="38.10"/>
<line x1="91.4" y1="32.59" x2="95.0" y2="32.59"/>
<line x1="91.4" y1="29.37" x2="95.0" y2="29.37"/>
<line x1="91.4" y1="27.08" x2="95.0" y2="27.08"/>
<line x1="91.4" y1="25.31" x2="95.0" y2="25.31"/>
<line x1="91.4" y1="23.86" x2="95.0" y2="23.86"/>
<line x1="91.4" y1="22.63" x2="95.0" y2="22.63"/>
<line x1="91.4" y1="21.57" x2="95.0" y2="21.57"/>
<line x1="91.4" y1="20.64" x2="95.0" y2="20.64"/>
<line x1="91.4" y1="19.80" x2="95.0" y2="19.80"/>
<line x1="91.4" y1="14.29" x2="95.0" y2="14.29"/>
<line x1="91.4" y1="11.07" x2="95.0" y2="11.07"/>
<line x1="91.4" y1="8.78" x2="95.0" y2="8.78"/>
<line x1="91.4" y1="7.01" x2="95.0" y2="7.01"/>
<line x1="91.4" y1="5.56" x2="95.0" y2="5.56"/>
<line x1="91.4" y1="4.33" x2="95.0" y2="4.33"/>
<line x1="91.4" y1="3.27" x2="95.0" y2="3.27"/>
<line x1="91.4" y1="2.34" x2="95.0" y2="2.34"/>
<line x1="91.4" y1="1.50" x2="95.0" y2="1.50"/>
<line x1="91.40" y1="189.3" x2="91.40" y2="187.10000000000002" stroke-width="1.45"/>
<line x1="101.55" y1="189.3" x2="101.55" y2="187.10000000000002" stroke-width="1.45"/>
<line x1="111.70" y1="189.3" x2="111.70" y2="185.60000000000002" stroke-width="1.45"/>
<line x1="121.85" y1="189.3" x2="121.85" y2="187.10000000000002" stroke-width="1.45"/>
<line x1="132.00" y1="189.3" x2="132.00" y2="187.10000000000002" stroke-width="1.45"/>
<line x1="142.15" y1="189.3" x2="142.15" y2="187.10000000000002" stroke-width="1.45"/>
<line x1="152.30" y1="189.3" x2="152.30" y2="185.60000000000002" stroke-width="1.45"/>
<line x1="162.45" y1="189.3" x2="162.45" y2="187.10000000000002" stroke-width="1.45"/>
<line x1="172.60" y1="189.3" x2="172.60" y2="187.10000000000002" stroke-width="1.45"/>
<line x1="182.75" y1="189.3" x2="182.75" y2="187.10000000000002" stroke-width="1.45"/>
<line x1="192.90" y1="189.3" x2="192.90" y2="185.60000000000002" stroke-width="1.45"/>
<line x1="203.05" y1="189.3" x2="203.05" y2="187.10000000000002" stroke-width="1.45"/>
<line x1="213.20" y1="189.3" x2="213.20" y2="187.10000000000002" stroke-width="1.45"/>
<line x1="223.35" y1="189.3" x2="223.35" y2="187.10000000000002" stroke-width="1.45"/>
<line x1="233.50" y1="189.3" x2="233.50" y2="185.60000000000002" stroke-width="1.45"/>
<line x1="243.65" y1="189.3" x2="243.65" y2="187.10000000000002" stroke-width="1.45"/>
<line x1="253.80" y1="189.3" x2="253.80" y2="187.10000000000002" stroke-width="1.45"/>
<line x1="263.95" y1="189.3" x2="263.95" y2="187.10000000000002" stroke-width="1.45"/>
<line x1="274.10" y1="189.3" x2="274.10" y2="185.60000000000002" stroke-width="1.45"/>
<line x1="284.25" y1="189.3" x2="284.25" y2="187.10000000000002" stroke-width="1.45"/>
<line x1="294.40" y1="189.3" x2="294.40" y2="187.10000000000002" stroke-width="1.45"/>
<line x1="304.55" y1="189.3" x2="304.55" y2="187.10000000000002" stroke-width="1.45"/>
<line x1="314.70" y1="189.3" x2="314.70" y2="185.60000000000002" stroke-width="1.45"/>
<line x1="324.85" y1="189.3" x2="324.85" y2="187.10000000000002" stroke-width="1.45"/>
<line x1="335.00" y1="189.3" x2="335.00" y2="187.10000000000002" stroke-width="1.45"/>
<line x1="345.15" y1="189.3" x2="345.15" y2="187.10000000000002" stroke-width="1.45"/>
<line x1="355.30" y1="189.3" x2="355.30" y2="185.60000000000002" stroke-width="1.45"/>
<line x1="365.45" y1="189.3" x2="365.45" y2="187.10000000000002" stroke-width="1.45"/>
<line x1="375.60" y1="189.3" x2="375.60" y2="187.10000000000002" stroke-width="1.45"/>
<line x1="385.75" y1="189.3" x2="385.75" y2="187.10000000000002" stroke-width="1.45"/>
<line x1="395.90" y1="189.3" x2="395.90" y2="185.60000000000002" stroke-width="1.45"/>
</g>
<rect x="91.4" y="0.9" width="304.5" height="188.4" fill="none" stroke="#000" stroke-width="1.8"/>
<rect x="257.1" y="111.7" width="125.5" height="60.5" fill="#fff" stroke="#000" stroke-width="1.1"/>
<line x1="263.9" y1="129.2" x2="291.6" y2="129.2" stroke="#000" stroke-width="1.45"/>
<line x1="325.9" y1="129.3" x2="351.7" y2="129.3" stroke="#00f" stroke-width="1.35" stroke-dasharray="3.3 2.3"/>
<line x1="264.4" y1="152.6" x2="290.4" y2="152.6" stroke="#f00" stroke-width="1.35" stroke-dasharray="3.3 2.3"/>
<line x1="325.9" y1="152.4" x2="351.7" y2="152.4" stroke="#800080" stroke-width="1.35" stroke-dasharray="3.3 2.3"/>
<text x="296.4" y="132.9" font-family="Liberation Serif, serif" font-size="14.5">All</text>
<text x="358.6" y="133.2" font-family="Liberation Serif, serif" font-size="15" font-style="italic">P</text>
<text x="367.6" y="135.4" font-family="Liberation Serif, serif" font-size="10.5" font-style="italic">s</text>
<text x="297.4" y="156.8" font-family="Liberation Serif, serif" font-size="15" font-style="italic">P</text>
<text x="305.6" y="158.9" font-family="Liberation Serif, serif" font-size="11" font-style="italic" textLength="14.2" lengthAdjust="spacingAndGlyphs">SR</text>
<path d="M300.6,146.6 C301.3,145.2 302.2,145.3 302.7,145.9 C303.2,146.5 304.0,146.6 304.7,145.2" fill="none" stroke="#000" stroke-width="0.8"/>
<text x="358.6" y="156.8" font-family="Liberation Serif, serif" font-size="15" font-style="italic">P</text>
<text x="367.6" y="159.0" font-family="Liberation Serif, serif" font-size="10.5" font-style="italic">e</text>
<text x="111.70" y="207.3" font-family="Liberation Serif, serif" font-size="21.5" text-anchor="middle">26</text>
<text x="152.30" y="207.3" font-family="Liberation Serif, serif" font-size="21.5" text-anchor="middle">28</text>
<text x="192.90" y="207.3" font-family="Liberation Serif, serif" font-size="21.5" text-anchor="middle">30</text>
<text x="233.50" y="207.3" font-family="Liberation Serif, serif" font-size="21.5" text-anchor="middle">32</text>
<text x="274.10" y="207.3" font-family="Liberation Serif, serif" font-size="21.5" text-anchor="middle">34</text>
<text x="314.70" y="207.3" font-family="Liberation Serif, serif" font-size="21.5" text-anchor="middle">36</text>
<text x="355.30" y="207.3" font-family="Liberation Serif, serif" font-size="21.5" text-anchor="middle">38</text>
<text x="395.90" y="207.3" font-family="Liberation Serif, serif" font-size="21.5" text-anchor="middle">40</text>
<text x="88.8" y="26.90" font-family="Liberation Serif, serif" font-size="21.4" text-anchor="end">10<tspan font-size="15.5" dy="-7.0">−</tspan><tspan font-size="15.5" dy="-1.1">2</tspan></text>
<text x="88.8" y="63.50" font-family="Liberation Serif, serif" font-size="21.4" text-anchor="end">10<tspan font-size="15.5" dy="-7.0">−</tspan><tspan font-size="15.5" dy="-1.1">4</tspan></text>
<text x="88.8" y="100.10" font-family="Liberation Serif, serif" font-size="21.4" text-anchor="end">10<tspan font-size="15.5" dy="-7.0">−</tspan><tspan font-size="15.5" dy="-1.1">6</tspan></text>
<text x="88.8" y="136.70" font-family="Liberation Serif, serif" font-size="21.4" text-anchor="end">10<tspan font-size="15.5" dy="-7.0">−</tspan><tspan font-size="15.5" dy="-1.1">8</tspan></text>
<text x="88.8" y="173.30" font-family="Liberation Serif, serif" font-size="21.4" text-anchor="end">10<tspan font-size="15.5" dy="-7.0">−</tspan><tspan font-size="15.5" dy="-1.1">10</tspan></text>
<path d="M105.6,89.6 Q91.20000000000002,107.25 105.6,124.9 Q94.2,107.25 105.6,89.6Z" fill="#000" stroke="#000" stroke-width="0.5" stroke-linejoin="round"/>
<text x="108.6" y="116.4" font-family="Liberation Serif, serif" font-size="36" font-style="italic" stroke="#fff" stroke-width="0.45">d</text>
<path d="M130.0,89.6 Q144.8,107.25 130.0,124.9 Q141.8,107.25 130.0,89.6Z" fill="#000" stroke="#000" stroke-width="0.5" stroke-linejoin="round"/>
<text x="199.8" y="244.8" font-family="Liberation Serif, serif" font-size="29" font-style="italic">l</text>
<text x="206.6" y="249.3" font-family="Liberation Serif, serif" font-size="20.5" font-style="italic">c</text>
<path d="M235.4,223.4 Q223.79999999999998,237.3 235.4,251.2 Q226.4,237.3 235.4,223.4Z" fill="#000" stroke="#000" stroke-width="0.5" stroke-linejoin="round"/>
<text x="236.9" y="244.8" font-family="Liberation Serif, serif" font-size="29" textLength="38.2" lengthAdjust="spacingAndGlyphs" stroke="#fff" stroke-width="0.3">nm</text>
<path d="M277.6,223.4 Q289.19999999999993,237.3 277.6,251.2 Q286.59999999999997,237.3 277.6,223.4Z" fill="#000" stroke="#000" stroke-width="0.5" stroke-linejoin="round"/>
<g transform="translate(26.4,129.6) rotate(-90)">
<text x="-1.9" y="0" font-family="Liberation Serif, serif" font-size="28">1</text>
<line x1="21.6" y1="-7.5" x2="38" y2="-7.5" stroke="#000" stroke-width="1.25"/>
<g transform="translate(47.8,-20.2)" fill="none" stroke="#000" stroke-width="1.35" stroke-linecap="round" stroke-linejoin="round">
<path d="M6.3,3.0 C6.3,2.0 7.4,1.55 9.6,1.55 L21.4,1.55 M21.6,0.9 L21.6,2.6"/>
<path d="M12.5,1.6 C11.4,8 9.4,14.5 7.0,18.4 C5.8,20.4 3.7,21 2.4,20.1" stroke-width="1.75"/>
<path d="M10.0,11 C12,10.6 14.5,11.2 17.2,10.9" stroke-width="1.2"/>
<circle cx="2.0" cy="18.6" r="1.2" fill="#000" stroke-width="0.8"/>
</g>
</g>
</svg>
</div>
</body></html>
